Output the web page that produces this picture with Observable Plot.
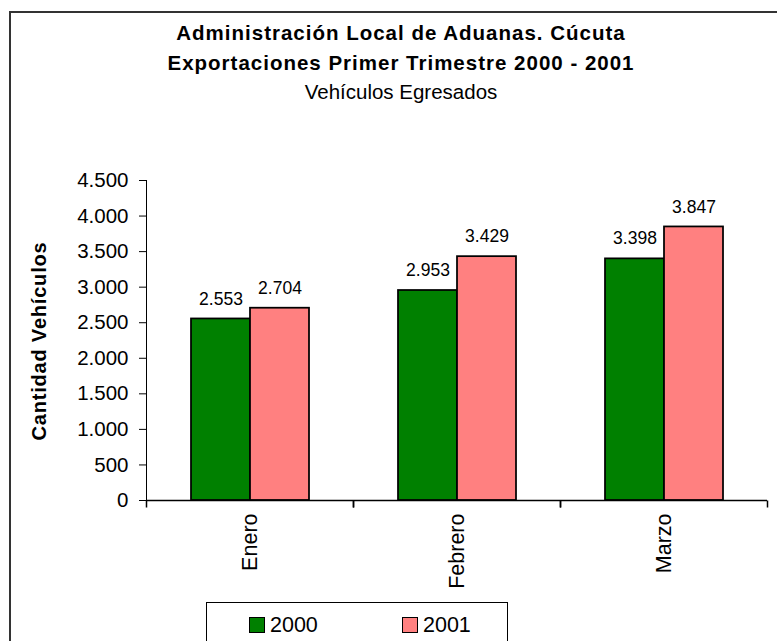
<!DOCTYPE html>
<html>
<head>
<meta charset="utf-8">
<script src="https://cdn.jsdelivr.net/npm/d3@7"></script>
<script src="https://cdn.jsdelivr.net/npm/@observablehq/plot@0.6"></script>
<style>
  html, body { margin: 0; padding: 0; background: #fff; overflow: hidden; }
  body { width: 777px; height: 641px; position: relative; font-family: Arial, "Liberation Sans", sans-serif; color: #000; }
  #frame { position: absolute; left: 9px; top: 11px; width: 800px; height: 700px; border: 2px solid #333; box-sizing: border-box; }
  #title { position: absolute; left: 10px; width: 782px; top: 18px; text-align: center; font-size: 20.5px; line-height: 29.5px; }
  #title .b { font-weight: bold; letter-spacing: 1px; }
  #ylabel { position: absolute; left: 39px; top: 341px; transform: translate(-50%, -50%) rotate(-90deg); white-space: nowrap; font-weight: bold; font-size: 20px; letter-spacing: 0.8px; }
  #chart { position: absolute; left: 60px; top: 120px; }
  #legend { position: absolute; left: 206px; top: 602px; width: 302px; height: 80px; border: 1px solid #000; box-sizing: border-box; background: #fff; }
  .item { position: absolute; top: 10px; height: 24px; display: flex; align-items: center; font-size: 21.5px; }
  .sw { width: 16px; height: 16px; border: 1.5px solid #000; box-sizing: border-box; margin-right: 5px; }
</style>
</head>
<body>
<div id="frame"></div>
<div id="title"></div>
<div id="ylabel"></div>
<div id="chart"></div>
<div id="legend"></div>
<script>
// ---- data ----
const titleLines = ["Administración Local de Aduanas. Cúcuta", "Exportaciones Primer Trimestre 2000 - 2001", "Vehículos Egresados"];
const yLabel = "Cantidad Vehículos";
const months = ["Enero", "Febrero", "Marzo"];
const years = ["2000", "2001"];
const values2000 = [2553, 2953, 3398];
const values2001 = [2704, 3429, 3847];
const seriesColors = ["#008000", "#FF8080"];
const yTicks = [0, 500, 1000, 1500, 2000, 2500, 3000, 3500, 4000, 4500];

// ---- build ----
const fmt = d3.formatLocale({decimal: ",", thousands: ".", grouping: [3], currency: ["$", ""]}).format(",d");
const seriesValues = [values2000, values2001];
const rows = months.flatMap((m, i) => years.map((y, j) => ({month: m, year: y, value: seriesValues[j][i]})));

// titles
const t = document.getElementById("title");
titleLines.forEach((s, i) => {
  const d = document.createElement("div");
  d.textContent = s;
  if (i < 2) d.className = "b";
  t.appendChild(d);
});
document.getElementById("ylabel").textContent = yLabel;

// tick symbol for category boundary ticks (drawn downward)
const tickSymbol = {draw(context, size) { const l = Math.sqrt(size / Math.PI); context.moveTo(0, 0); context.lineTo(0, l); }};

const chart = Plot.plot({
  width: 717,
  height: 480,
  marginLeft: 86,
  marginRight: 10,
  marginTop: 60,
  marginBottom: 100,
  style: {fontFamily: "Arial, 'Liberation Sans', sans-serif", fontSize: "20.5px", color: "#000", background: "transparent", overflow: "visible"},
  fx: {domain: months, padding: 0, axis: null},
  x: {domain: years, paddingInner: 0, paddingOuter: 0.75, axis: null},
  y: {domain: [0, 4500], ticks: yTicks, tickFormat: fmt, tickSize: 7, tickPadding: 11, line: true, label: null},
  color: {domain: years, range: seriesColors},
  marks: [
    Plot.barY(rows, {fx: "month", x: "year", y: "value", fill: "year", stroke: "#000", strokeWidth: 1.75}),
    Plot.text(rows, {fx: "month", x: "year", y: "value", text: d => fmt(d.value), dy: -20, fontSize: 17.5, fill: "#000"}),
    Plot.ruleY([0], {stroke: "#000", strokeWidth: 1.5}),
    Plot.dot([0], {frameAnchor: "bottom-left", symbol: tickSymbol, r: 7, stroke: "#000", strokeWidth: 1.5, fill: "none"}),
    Plot.dot([0], {frameAnchor: "bottom-right", symbol: tickSymbol, r: 7, stroke: "#000", strokeWidth: 1.5, fill: "none"}),
    Plot.axisFx({anchor: "bottom", tickSize: 0, tickRotate: -90, tickPadding: 13, fontSize: 21.5, label: null})
  ]
});
document.getElementById("chart").appendChild(chart);

// legend
const lg = document.getElementById("legend");
const legendX = [42, 195];
years.forEach((y, j) => {
  const it = document.createElement("div");
  it.className = "item";
  it.style.left = legendX[j] + "px";
  const sw = document.createElement("div");
  sw.className = "sw";
  sw.style.background = seriesColors[j];
  const tx = document.createElement("span");
  tx.textContent = y;
  it.appendChild(sw);
  it.appendChild(tx);
  lg.appendChild(it);
});
</script>
</body>
</html>
